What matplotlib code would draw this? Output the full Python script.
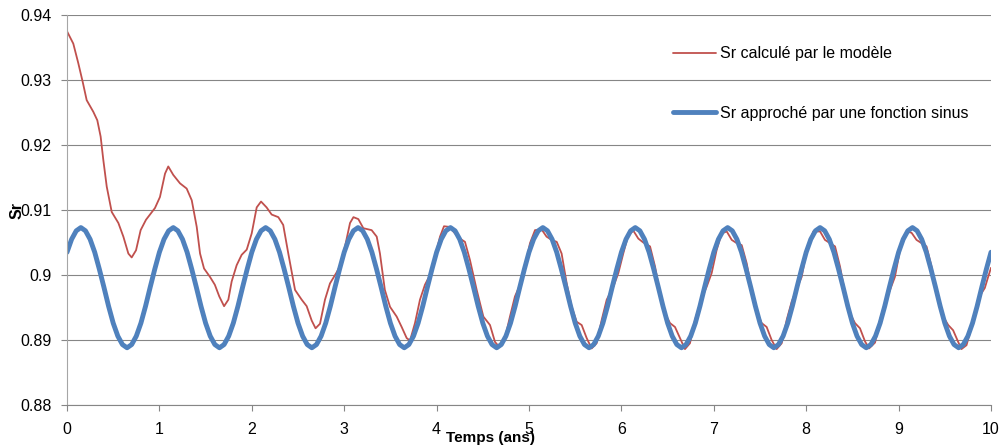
import numpy as np
import matplotlib
matplotlib.use("Agg")
import matplotlib.pyplot as plt

plt.rcParams['font.family'] = ['Liberation Sans', 'DejaVu Sans']

# ---------------- data ----------------
x_ticks = [0, 1, 2, 3, 4, 5, 6, 7, 8, 9, 10]
y_ticks = [0.88, 0.89, 0.90, 0.91, 0.92, 0.93, 0.94]
y_tick_labels = ['0.88', '0.89', '0.9', '0.91', '0.92', '0.93', '0.94']

label_red = 'Sr calculé par le modèle'
label_blue = 'Sr approché par une fonction sinus'
x_label = 'Temps (ans)'
y_label = 'Sr'

# Sr computed by the model (time in years, value)
red_t = [0.000, 0.068, 0.122, 0.170, 0.213, 0.285, 0.328, 0.364, 0.393, 0.430,
         0.484, 0.556, 0.610, 0.664, 0.700, 0.747, 0.797, 0.855, 0.952, 1.006,
         1.061, 1.096, 1.150, 1.223, 1.295, 1.350, 1.404, 1.440, 1.483, 1.548,
         1.600, 1.648, 1.700, 1.746, 1.782, 1.836, 1.890, 1.945, 1.999, 2.053,
         2.100, 2.160, 2.215, 2.287, 2.340, 2.395, 2.468, 2.540, 2.594, 2.648,
         2.690, 2.738, 2.792, 2.846, 2.918, 2.955, 3.009, 3.063, 3.100, 3.153,
         3.207, 3.297, 3.352, 3.387, 3.440, 3.496, 3.568, 3.622, 3.676, 3.712,
         3.766, 3.820, 3.874, 3.929, 3.983, 4.037, 4.080, 4.138, 4.199, 4.253,
         4.307, 4.361, 4.434, 4.506, 4.578, 4.632, 4.668, 4.740, 4.794, 4.848,
         4.903, 4.957, 5.011, 5.065, 5.137, 5.190, 5.245, 5.300, 5.353, 5.408,
         5.462, 5.516, 5.570, 5.624, 5.678, 5.732, 5.787, 5.841, 5.913, 5.967,
         6.020, 6.075, 6.130, 6.183, 6.237, 6.310, 6.364, 6.418, 6.472, 6.526,
         6.580, 6.634, 6.688, 6.742, 6.797, 6.869, 6.923, 6.977, 7.030, 7.085,
         7.140, 7.194, 7.248, 7.302, 7.356, 7.410, 7.464, 7.518, 7.572, 7.626,
         7.680, 7.735, 7.789, 7.843, 7.897, 7.951, 8.005, 8.077, 8.150, 8.203,
         8.258, 8.312, 8.366, 8.420, 8.474, 8.528, 8.582, 8.636, 8.680, 8.745,
         8.799, 8.853, 8.907, 8.960, 9.015, 9.087, 9.140, 9.194, 9.248, 9.302,
         9.356, 9.410, 9.483, 9.537, 9.590, 9.645, 9.680, 9.735, 9.789, 9.843,
         9.897, 9.933, 9.969, 10.000]
red_v = [0.9375, 0.9356, 0.9326, 0.9297, 0.9269, 0.9251, 0.9238, 0.9213, 0.9177, 0.9136,
         0.9097, 0.9080, 0.9059, 0.9033, 0.9027, 0.9038, 0.9069, 0.9085, 0.9103, 0.9120,
         0.9156, 0.9167, 0.9154, 0.9141, 0.9133, 0.9115, 0.9074, 0.9033, 0.9010, 0.8997,
         0.8985, 0.8967, 0.8952, 0.8962, 0.8990, 0.9015, 0.9031, 0.9039, 0.9064, 0.9104,
         0.9113, 0.9104, 0.9093, 0.9089, 0.9077, 0.9033, 0.8977, 0.8962, 0.8952, 0.8930,
         0.8918, 0.8925, 0.8962, 0.8987, 0.9004, 0.9014, 0.9044, 0.9080, 0.9089, 0.9086,
         0.9072, 0.9069, 0.9059, 0.9033, 0.8977, 0.8951, 0.8936, 0.8920, 0.8903, 0.8899,
         0.8926, 0.8962, 0.8985, 0.9000, 0.9028, 0.9059, 0.9075, 0.9074, 0.9064, 0.9056,
         0.9051, 0.9023, 0.8977, 0.8936, 0.8923, 0.8897, 0.8891, 0.8903, 0.8936, 0.8967,
         0.8985, 0.9013, 0.9049, 0.9069, 0.9070, 0.9059, 0.9054, 0.9051, 0.9033, 0.8987,
         0.8951, 0.8928, 0.8923, 0.8903, 0.8887, 0.8895, 0.8931, 0.8962, 0.8982, 0.9003,
         0.9033, 0.9062, 0.9068, 0.9056, 0.9050, 0.9044, 0.9013, 0.8972, 0.8941, 0.8926,
         0.8920, 0.8903, 0.8886, 0.8895, 0.8931, 0.8964, 0.8982, 0.9003, 0.9038, 0.9064,
         0.9067, 0.9054, 0.9049, 0.9046, 0.9018, 0.8977, 0.8944, 0.8926, 0.8920, 0.8900,
         0.8886, 0.8895, 0.8931, 0.8959, 0.8979, 0.8997, 0.9038, 0.9067, 0.9067, 0.9054,
         0.9049, 0.9044, 0.9013, 0.8972, 0.8941, 0.8926, 0.8918, 0.8898, 0.8887, 0.8896,
         0.8931, 0.8958, 0.8977, 0.8997, 0.9038, 0.9067, 0.9065, 0.9054, 0.9049, 0.9044,
         0.9013, 0.8972, 0.8936, 0.8923, 0.8915, 0.8897, 0.8886, 0.8892, 0.8920, 0.8951,
         0.8972, 0.8980, 0.8997, 0.9011]

# Sr approximated by a sine function, sampled every 0.05 year from 0 to 10
blue_t = np.linspace(0.0, 10.0, 201)
blue_v = [
    0.9035, 0.9055, 0.9068, 0.9073, 0.9068, 0.9055, 0.9035, 0.9009, 0.8981, 0.8952,
    0.8926, 0.8906, 0.8893, 0.8888, 0.8893, 0.8906, 0.8926, 0.8952, 0.8981, 0.9009,
    0.9035, 0.9055, 0.9068, 0.9073, 0.9068, 0.9055, 0.9035, 0.9009, 0.8981, 0.8952,
    0.8926, 0.8906, 0.8893, 0.8888, 0.8893, 0.8906, 0.8926, 0.8952, 0.8981, 0.9009,
    0.9035, 0.9055, 0.9068, 0.9073, 0.9068, 0.9055, 0.9035, 0.9009, 0.8981, 0.8952,
    0.8926, 0.8906, 0.8893, 0.8888, 0.8893, 0.8906, 0.8926, 0.8952, 0.8981, 0.9009,
    0.9035, 0.9055, 0.9068, 0.9073, 0.9068, 0.9055, 0.9035, 0.9009, 0.8981, 0.8952,
    0.8926, 0.8906, 0.8893, 0.8888, 0.8893, 0.8906, 0.8926, 0.8952, 0.8981, 0.9009,
    0.9035, 0.9055, 0.9068, 0.9073, 0.9068, 0.9055, 0.9035, 0.9009, 0.8981, 0.8952,
    0.8926, 0.8906, 0.8893, 0.8888, 0.8893, 0.8906, 0.8926, 0.8952, 0.8981, 0.9009,
    0.9035, 0.9055, 0.9068, 0.9073, 0.9068, 0.9055, 0.9035, 0.9009, 0.8981, 0.8952,
    0.8926, 0.8906, 0.8893, 0.8888, 0.8893, 0.8906, 0.8926, 0.8952, 0.8981, 0.9009,
    0.9035, 0.9055, 0.9068, 0.9073, 0.9068, 0.9055, 0.9035, 0.9009, 0.8981, 0.8952,
    0.8926, 0.8906, 0.8893, 0.8888, 0.8893, 0.8906, 0.8926, 0.8952, 0.8981, 0.9009,
    0.9035, 0.9055, 0.9068, 0.9073, 0.9068, 0.9055, 0.9035, 0.9009, 0.8981, 0.8952,
    0.8926, 0.8906, 0.8893, 0.8888, 0.8893, 0.8906, 0.8926, 0.8952, 0.8981, 0.9009,
    0.9035, 0.9055, 0.9068, 0.9073, 0.9068, 0.9055, 0.9035, 0.9009, 0.8981, 0.8952,
    0.8926, 0.8906, 0.8893, 0.8888, 0.8893, 0.8906, 0.8926, 0.8952, 0.8981, 0.9009,
    0.9035, 0.9055, 0.9068, 0.9073, 0.9068, 0.9055, 0.9035, 0.9009, 0.8981, 0.8952,
    0.8926, 0.8906, 0.8893, 0.8888, 0.8893, 0.8906, 0.8926, 0.8952, 0.8981, 0.9009,
    0.9035]

# ---------------- figure ----------------
W, H = 1002, 448
fig = plt.figure(figsize=(W / 100, H / 100), dpi=100)
fig.patch.set_facecolor('white')
ax = fig.add_axes([67 / W, 1 - 405 / H, 924 / W, 390 / H])

ax.plot(red_t, red_v, color='#C0504D', lw=1.3, label=label_red,
        solid_joinstyle='round', solid_capstyle='round')
ax.plot(blue_t, blue_v, color='#4F81BD', lw=3.5, label=label_blue,
        solid_joinstyle='round', solid_capstyle='round')

ax.set_xlim(0, 10)
ax.set_ylim(0.88, 0.94)
ax.set_xticks(x_ticks)
ax.set_yticks(y_ticks)
ax.set_yticklabels(y_tick_labels)

ax.grid(axis='y', color='#868686', lw=0.8)
ax.grid(axis='x', visible=False)
ax.set_axisbelow(True)
for s in ['top', 'right']:
    ax.spines[s].set_visible(False)
ax.spines['left'].set_color('#a6a6a6')
ax.spines['left'].set_linewidth(0.8)
ax.spines['bottom'].set_color('#868686')
ax.spines['bottom'].set_linewidth(0.8)

ax.tick_params(axis='both', direction='out', length=4, width=0.8,
               colors='#868686', labelcolor='black', labelsize=11.5)
ax.tick_params(axis='y', pad=7)
ax.tick_params(axis='x', pad=8.5)

ax.set_xlabel(x_label, fontweight='bold', fontsize=11)
ax.xaxis.set_label_coords(0.458, -0.066)
ax.set_ylabel(y_label, fontweight='bold', fontsize=11.5)
ax.yaxis.set_label_coords(-0.046, 0.5)

ax.legend(loc='upper left', bbox_to_anchor=(0.6558, 0.92), frameon=False,
          borderpad=0, borderaxespad=0, handlelength=2.7, handletextpad=0.25,
          labelspacing=2.8, fontsize=11.5)

fig.savefig('out.png', dpi=100)
